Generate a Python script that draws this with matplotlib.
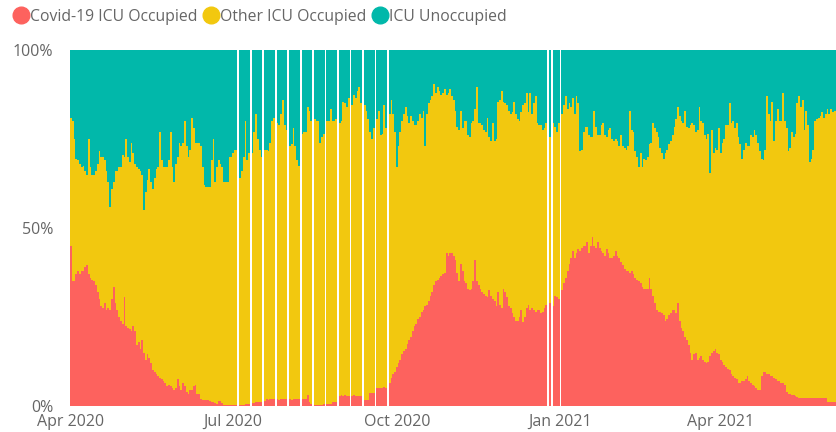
import numpy as np
import pandas as pd
import matplotlib
matplotlib.use('Agg')
import matplotlib.pyplot as plt
import matplotlib.dates as mdates
from matplotlib.lines import Line2D

# daily ICU bed split, percent of all ICU beds, starting 1 Apr 2020
# None = no report that day
start_date = '2020-04-01'
series_names = ['Covid-19 ICU Occupied', 'Other ICU Occupied', 'ICU Unoccupied']
series_colors = ['#FD625E', '#F2C80F', '#01B8AA']

covid_pct = [
    45, 35, 35, 37, 38, 37, 38, 38, 39, 39.5,
    37, 36, 35.5, 35, 34, 32, 30, 28, 27.5, 29,
    27, 27.5, 27, 30, 33.5, 29, 27, 25, 24, 23,
    30.5, 22.5, 22, 21.5, 21, 22.5, 21, 17, 18, 16,
    18.5, 15, 13, 14.5, 13.5, 12, 10, 9.5, 9, 8.5,
    8, 7.5, 7, 6.5, 5.5, 6, 5.5, 5, 4.5, 5,
    7.5, 5.5, 4.5, 6.5, 5.5, 4, 3.5, 4.5, 4.5, 5.5,
    6, 3.5, 3.5, 2, 1.7, 1.7, 1.7, 1.7, 1.5, 1.2,
    1, 0.8, 0.5, 1.5, 1.5, 0.8, 0.3, 0.3, 0.3, 0.3,
    0.3, 0.3, 0.3, 0.3, None, 0.3, 0.3, 0.3, 0.5, 0.5,
    0.5, None, 0.8, 0.8, 1, 1, 1, 1, None, 1.5,
    1.9, 1.8, 1.9, 2, 1.9, None, 1.9, 1.8, 1.9, 2,
    1.9, 2, None, 1.9, 1.8, 1.9, 2, 1.9, 1.9, None,
    1.9, 1.9, 2, 3, 1, 0.5, None, 0.4, 0.4, 0.4,
    0.4, 0.4, 0.5, None, 0.5, 0.5, 0.6, 1, 1, 1,
    None, 2.8, 3, 2.8, 3, 2.9, 2.8, None, 2.8, 3,
    2.8, 2.9, 2.8, 2.8, None, 1.7, 1.7, 1.7, 3.6, 3.6,
    3.6, None, 5, 5, 5, 5, 5.2, 5, None, 6.5,
    8, 9, 9.5, 11, 12, 13, 14.5, 15.5, 16, 17.5,
    18.5, 19.5, 21, 22.5, 23, 24.5, 25, 26.5, 27, 28,
    28.5, 29.5, 31, 32, 34, 35, 35.5, 36, 36.5, 37,
    37.5, 43, 42, 43, 43, 42, 41, 37.5, 35, 40,
    38, 35, 34.5, 33, 32.5, 33, 35, 41, 35, 34,
    33, 32, 31.5, 31, 30.5, 32.5, 31, 30, 29.5, 28,
    32, 28.5, 27.5, 33, 32, 30.5, 28, 27.5, 26, 25,
    24, 24, 25, 27, 23.5, 25, 27.5, 28.5, 27, 27.5,
    27, 26.5, 27, 27, 26, 26.5, 27.5, 28.5, None, 29,
    None, 28, 31, 30.5, 30, None, 32.5, 34.5, 36, 38,
    40, 41.5, 43.5, 41.5, 43, 44, 43.5, 44.5, 45, 45,
    46, 43, 45, 47.5, 45, 44.5, 46, 44.5, 43.5, 43,
    42, 44, 43, 41.5, 41.5, 42, 43.5, 42, 41.5, 40.5,
    39.5, 38.5, 38, 38, 37.5, 38, 37, 36, 35.5, 35,
    34.5, 33.5, 33, 33, 33, 36, 33, 31, 29, 27,
    26.5, 26.5, 26, 25.5, 24, 24.5, 25.5, 26, 27, 27,
    26, 29, 24, 22, 21, 19.5, 18.5, 17, 15, 13,
    14.5, 15, 13, 13.5, 14, 13, 12.5, 12, 12.5, 14,
    15, 15.5, 16, 15, 14.5, 13, 12.5, 11.5, 11, 10.5,
    10, 9, 8.5, 8, 7.5, 6.5, 6.5, 7, 7, 7.5,
    8.5, 7, 6.5, 6, 5.5, 5, 4.5, 4.5, 8.5, 9.5,
    9.5, 9, 9, 8.5, 8.5, 8, 7.5, 7, 7, 6.5,
    6.5, 6, 4, 3.5, 3.5, 3, 3, 2.7, 2.5, 2.2,
    2.2, 2.2, 2.2, 2.2, 2.2, 2.2, 2.2, 2.2, 2.2, 2.2,
    2.2, 2.2, 2.2, 2.2, 2.2, 1, 1, 1, 1, 1,
]

# covid + other, i.e. everything that is not free
occupied_pct = [
    81, 80, 75, 69.5, 69, 68, 67, 67.5, 66, 65,
    75, 67, 65, 65, 66, 68, 71.5, 70, 70, 69,
    66, 63, 56, 61, 63, 66, 66, 67, 67, 70.5,
    70, 75, 70, 68.5, 74, 71, 68, 67, 66.5, 66,
    65, 55, 60, 63.5, 66.5, 63, 61, 64, 66.5, 67,
    77, 69, 67, 67, 67, 69, 77, 67, 63, 68,
    70, 74, 73, 74, 80, 73, 70, 72, 81, 78,
    74, 74, 74, 73, 67, 62, 61.5, 61.5, 61.5, 69,
    75, 63, 67, 69, 68, 67, 63, 63, 63, 70,
    70, 71, 72, 72, None, 64, 66, 70, 80, 69,
    71, None, 71, 77, 82, 75, 72, 70, None, 72,
    72, 71.5, 74, 80, 81, None, 79.5, 79, 82, 86,
    79, 77.5, None, 73, 73.5, 78, 73, 69, 67.5, None,
    76.5, 77, 77, 84, 83, 80, None, 80.5, 80, 80,
    74, 75.5, 76.5, None, 80, 80, 83.5, 80, 80, 80.5,
    None, 79.5, 80, 85.5, 85, 84, 86.5, None, 84.5, 87.5,
    86.5, 88.5, 89.5, 85, None, 84.5, 83, 80.5, 77, 75,
    78, None, 80.5, 83, 76, 76.5, 84.5, 78, None, 82,
    86, 82, 77, 67, 73, 77, 80, 82, 84, 81.5,
    79.5, 81.5, 80, 79, 79, 80, 82, 81, 83, 73,
    82, 85, 86, 87, 90.5, 88, 89.5, 88.5, 87.5, 88,
    89, 87.5, 88, 89, 87, 86, 83, 78.5, 77.5, 83,
    78, 80, 80, 76, 75.5, 79.5, 80, 83.5, 89.5, 79.5,
    79.5, 79, 77.5, 77, 81, 75.5, 74.5, 79.5, 74.5, 75,
    85.5, 86, 88.5, 85.5, 85, 84.5, 83, 82, 82.5, 85.5,
    82, 80.5, 80, 82.5, 84.5, 85, 88, 82.5, 88, 82,
    85, 87, 79.5, 79, 79, 77.5, 78, 79.5, None, 75.5,
    None, 79.5, 78.5, 77, 79.5, None, 82, 84.5, 87, 83.5,
    85, 84, 86.5, 82, 87, 85, 71.5, 72, 77, 78.5,
    78.5, 76, 75.5, 75.5, 83, 78.5, 76, 76, 79, 79.5,
    76, 75.5, 77.5, 78, 75, 74.5, 75, 74.5, 73, 76,
    73, 72.5, 72, 73, 83, 77.5, 77, 71.5, 70, 67,
    71, 67, 69.5, 69, 70, 73.5, 74, 79.5, 78, 77,
    75.5, 72.5, 71, 69.5, 71, 72, 73.5, 74.5, 76, 78.5,
    80.5, 84, 81.5, 80, 79.5, 83, 78.5, 78, 79, 79.5,
    79, 77, 77.5, 84, 80, 79.5, 76, 75, 76.5, 65.5,
    77.5, 71, 72.5, 72, 78, 71, 74, 75, 79, 79,
    85, 79.5, 80, 78, 79.5, 75.5, 73.5, 69.5, 72, 74,
    73, 73, 76, 75.5, 77.5, 76, 74, 71.5, 69.5, 69,
    72, 87, 82, 80, 85.5, 74.5, 80, 83.5, 80, 80,
    88, 80, 78, 71.5, 72.5, 77, 75.5, 76.5, 85, 87,
    84, 86, 77.5, 83, 79, 68.5, 69.5, 72, 80, 80.5,
    81, 81.5, 82.5, 81, 82, 83.5, 82, 83.5, 82.5, 83,
]

tick_dates = ['2020-04-01', '2020-07-01', '2020-10-01', '2021-01-01', '2021-04-01']
tick_labels = ['Apr 2020', 'Jul 2020', 'Oct 2020', 'Jan 2021', 'Apr 2021']
y_ticks = [0, 50, 100]
y_labels = ['0%', '50%', '100%']

plt.rcParams['font.family'] = ['Open Sans', 'DejaVu Sans']

covid = np.array(covid_pct, dtype=float)
occupied = np.array(occupied_pct, dtype=float)
other = occupied - covid
free = 100 - occupied

days = pd.date_range(start_date, periods=len(covid), freq='D')
x = mdates.date2num(days)

fig = plt.figure(figsize=(8.37, 4.32), dpi=100)
ax = fig.add_axes([70 / 837, 26 / 432, 767 / 837, 356 / 432])

ax.bar(x, covid, width=1.0, color=series_colors[0], linewidth=0)
ax.bar(x, other, bottom=covid, width=1.0, color=series_colors[1], linewidth=0)
ax.bar(x, free, bottom=occupied, width=1.0, color=series_colors[2], linewidth=0)

ax.set_xlim(x[0] - 0.56, x[0] + 430.3)
ax.set_ylim(0, 100)
ax.set_xticks(mdates.date2num(pd.to_datetime(tick_dates)))
ax.set_xticklabels(tick_labels)
ax.set_yticks(y_ticks)
ax.set_yticklabels(y_labels)
ax.tick_params(length=0, labelsize=11.5, colors='#666666')
ax.tick_params(axis='y', pad=12)
ax.tick_params(axis='x', pad=6)
for s in ax.spines.values():
    s.set_visible(False)

handles = [Line2D([], [], marker='o', linestyle='', markersize=12,
                  markerfacecolor=c, markeredgecolor=c) for c in series_colors]
leg = fig.legend(handles, series_names, loc='upper left', bbox_to_anchor=(0.002, 1.005),
                 ncol=3, frameon=False, handlelength=1.0, handletextpad=0.1,
                 columnspacing=0.35, fontsize=11.3, borderaxespad=0.3)
for t in leg.get_texts():
    t.set_color('#666666')

fig.savefig('out.png', dpi=100)
